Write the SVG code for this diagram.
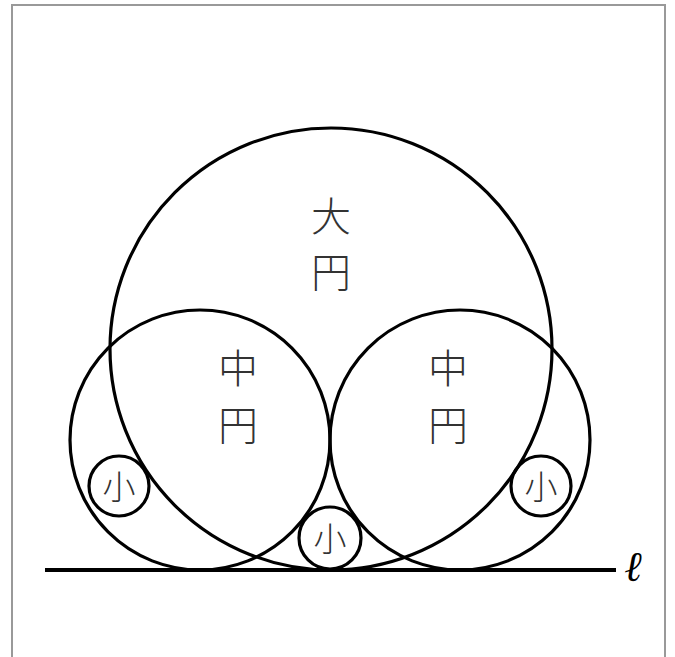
<svg xmlns="http://www.w3.org/2000/svg" width="675" height="657" viewBox="0 0 675 657">
<style>
.c{fill:none;stroke:#000;stroke-width:3.2}
.t{font-family:"Noto Sans CJK JP","Noto Sans CJK SC",sans-serif;font-weight:300;fill:#333;text-anchor:middle}
.b{font-size:40px}
.s{font-size:33px}
</style>
<rect x="12" y="5" width="653" height="660" fill="#fff" stroke="#999" stroke-width="2"/>
<g id="line">
<line x1="45" y1="570" x2="616" y2="570" stroke="#000" stroke-width="4"/>
<text x="633" y="581" font-family="DejaVu Serif, serif" font-style="italic" font-size="42" text-anchor="middle" fill="#000">ℓ</text>
</g>
<g id="large">
<circle class="c" cx="331" cy="349" r="221"/>
<text class="t b" x="331" y="231">大</text>
<text class="t b" x="331" y="287">円</text>
</g>
<g id="mid-left">
<circle class="c" cx="200" cy="440" r="130"/>
<text class="t b" x="238" y="383">中</text>
<text class="t b" x="238" y="440">円</text>
</g>
<g id="mid-right">
<circle class="c" cx="460" cy="440" r="130"/>
<text class="t b" x="448" y="383">中</text>
<text class="t b" x="448" y="440">円</text>
</g>
<g id="small-left">
<circle class="c" cx="119" cy="486" r="30"/>
<text class="t s" x="119" y="499">小</text>
</g>
<g id="small-mid">
<circle class="c" cx="330" cy="538" r="31"/>
<text class="t s" x="330" y="551">小</text>
</g>
<g id="small-right">
<circle class="c" cx="541" cy="486" r="30"/>
<text class="t s" x="541" y="499">小</text>
</g>
</svg>
